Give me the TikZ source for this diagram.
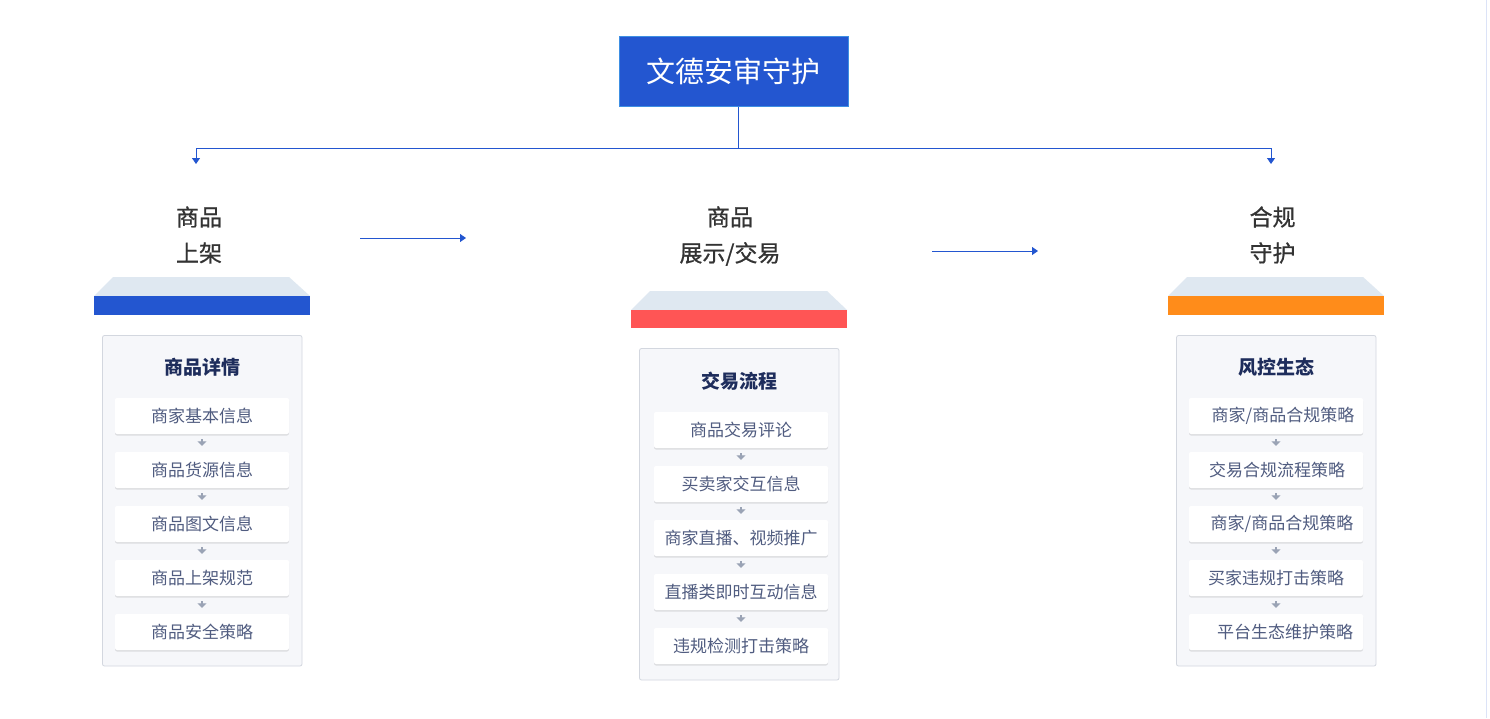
\documentclass[tikz,border=0pt]{standalone}
\usepackage{fontspec}
\setmainfont{Noto Sans CJK SC}
\newfontfamily\medfont[FakeBold=0.7]{Noto Sans CJK SC}
\usetikzlibrary{arrows.meta,shadows}
\definecolor{mainblue}{HTML}{2356D0}
\definecolor{rootborder}{HTML}{3E8FE3}
\definecolor{barred}{HTML}{FF5555}
\definecolor{barorange}{HTML}{FF8C1A}
\definecolor{traplight}{HTML}{DFE8F1}
\definecolor{panelfill}{HTML}{F6F7FA}
\definecolor{panelborder}{HTML}{D3D7DF}
\definecolor{navy}{HTML}{1E2D5C}
\definecolor{itemtext}{HTML}{505C80}
\definecolor{coltitle}{HTML}{333333}
\definecolor{miniarrow}{HTML}{9AA3B5}
\definecolor{edgeline}{HTML}{DCE3F7}
\tikzset{
  rootbox/.style={draw=rootborder, line width=1pt, fill=mainblue, text=white,
    minimum width=229pt, minimum height=70pt, inner sep=0pt,
    font=\fontsize{29}{32}\selectfont},
  link/.style={draw=mainblue, line width=1pt},
  arr/.style={link, -{Triangle[width=8pt,length=6pt]}},
  coltext/.style={text=coltitle, align=center, inner sep=0pt,
    font=\medfont\fontsize{23}{36}\selectfont},
  panel/.style={draw=panelborder, line width=0.8pt, fill=panelfill, rounded corners=2pt},
  paneltitle/.style={text=navy, inner sep=0pt, font=\fontsize{19}{22}\selectfont\bfseries},
  item/.style={fill=white, minimum width=174pt, minimum height=36pt, inner sep=0pt,
    rounded corners=2pt, text=itemtext, font=\fontsize{17}{20}\selectfont,
    drop shadow={shadow xshift=0pt, shadow yshift=-1.5pt, opacity=0.1, fill=black}},
  mini/.style={draw=miniarrow, line width=1.8pt, shorten <=5pt, shorten >=6pt,
    -{Triangle[width=9pt,length=4.5pt]}},
  trap/.style={fill=traplight},
}
\begin{document}
\begin{tikzpicture}[x=1pt,y=-1pt]
\useasboundingbox (0,0) rectangle (1490,718);
\fill[white] (0,0) rectangle (1490,718);
\draw[edgeline, line width=1pt] (1486.5,0) -- (1486.5,718);

% root
\node[rootbox] (root) at (733.5,71) {文德安审守护};
\coordinate (hub) at (738,148);
\coordinate (d1) at (196,164);
\coordinate (d3) at (1271,164);
\draw[link] (738,106.5) -- (hub);
\draw[arr] (hub) -| (d1);
\draw[arr] (hub) -| (d3);

% column titles
\node[coltext] (t1) at (199,235) {商品\\上架};
\node[coltext] (t2) at (730,236) {商品\\展示/交易};
\node[coltext] (t3) at (1272.5,235) {合规\\守护};

\coordinate (h1s) at (360,238);
\coordinate (h1e) at (466,238);
\coordinate (h2s) at (932,251);
\coordinate (h2e) at (1038,251);
\draw[arr] (h1s) -- (h1e);
\draw[arr] (h2s) -- (h2e);

% column 1 header
\fill[trap] (113,277) -- (289,277) -- (310,296) -- (94,296) -- cycle;
\fill[mainblue] (94,296) rectangle (310,315);
% column 2 header
\fill[trap] (650,291) -- (827,291) -- (847,310) -- (631,310) -- cycle;
\fill[barred] (631,310) rectangle (847,328);
% column 3 header
\fill[trap] (1187,277) -- (1363,277) -- (1384,296) -- (1168,296) -- cycle;
\fill[barorange] (1168,296) rectangle (1384,315);

% panels
\draw[panel] (102.5,335.5) rectangle (302,666);
\draw[panel] (639.5,348.5) rectangle (839,680);
\draw[panel] (1176.5,335.5) rectangle (1376,666);

% panel 1
\node[paneltitle] (p1) at (202,367) {商品详情};
\node[item] (a1) at (202,416) {商家基本信息};
\node[item] (a2) at (202,470) {商品货源信息};
\node[item] (a3) at (202,524) {商品图文信息};
\node[item] (a4) at (202,578) {商品上架规范};
\node[item] (a5) at (202,632) {商品安全策略};
\draw[mini] (a1) -- (a2);
\draw[mini] (a2) -- (a3);
\draw[mini] (a3) -- (a4);
\draw[mini] (a4) -- (a5);

% panel 2
\node[paneltitle] (p2) at (739,381) {交易流程};
\node[item] (b1) at (741,430) {商品交易评论};
\node[item] (b2) at (741,484) {买卖家交互信息};
\node[item] (b3) at (741,538) {商家直播、视频推广};
\node[item] (b4) at (741,592) {直播类即时互动信息};
\node[item] (b5) at (741,646) {违规检测打击策略};
\draw[mini] (b1) -- (b2);
\draw[mini] (b2) -- (b3);
\draw[mini] (b3) -- (b4);
\draw[mini] (b4) -- (b5);

% panel 3
\node[paneltitle] (p3) at (1276,367) {风控生态};
\node[item] (c1) at (1276,416) {\hspace*{14pt}商家/商品合规策略};
\node[item] (c2) at (1276,470) {\hspace*{2pt}交易合规流程策略};
\node[item] (c3) at (1276,524) {\hspace*{12pt}商家/商品合规策略};
\node[item] (c4) at (1276,578) {买家违规打击策略};
\node[item] (c5) at (1276,632) {\hspace*{18pt}平台生态维护策略};
\draw[mini] (c1) -- (c2);
\draw[mini] (c2) -- (c3);
\draw[mini] (c3) -- (c4);
\draw[mini] (c4) -- (c5);
\end{tikzpicture}
\end{document}
